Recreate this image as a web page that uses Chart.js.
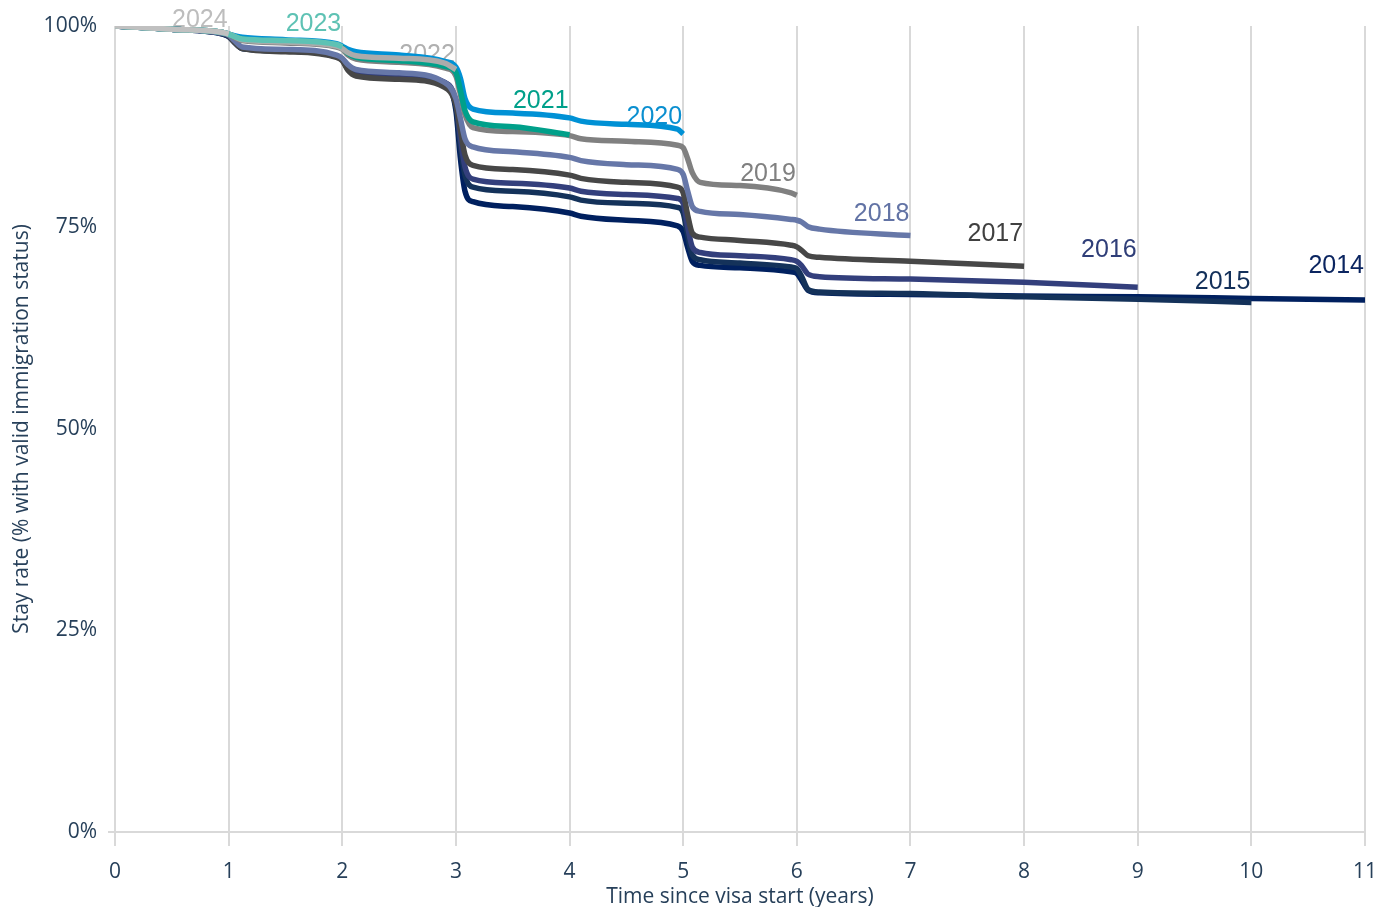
<!DOCTYPE html>
<html>
<head>
<meta charset="utf-8">
<script src="https://cdn.jsdelivr.net/npm/chart.js@4.4.1/dist/chart.umd.min.js"></script>
<style>
  html, body { margin: 0; padding: 0; background: #ffffff; }
  #wrap { width: 1380px; height: 907px; position: relative; }
</style>
</head>
<body>
<div id="wrap"><canvas id="c" width="1380" height="907"></canvas></div>
<script>
// ---- DATA ----
const years = [0, 0.5, 0.95, 1.0, 1.05, 1.12, 1.5, 1.95, 2.0, 2.05, 2.12, 2.5, 2.9, 3.0, 3.04, 3.08, 3.15, 3.5, 4.0, 4.1, 4.5, 4.95, 5.0, 5.04, 5.08, 5.15, 5.5, 5.95, 6.0, 6.04, 6.1, 6.2, 7, 8, 9, 10, 11];

const cohorts = ['2024', '2023', '2022', '2021', '2020', '2019', '2018', '2017', '2016', '2015', '2014'];

const stay2024 = [100, 99.6, 99.2, 99.0];
const stay2023 = [100, 99.6, 99.2, 99.0, 98.7, 98.4, 98.2, 97.7, 97.4];
const stay2022 = [100, 99.6, 99.2, 99.0, 98.7, 98.3, 98.0, 97.5, 97.2, 96.7, 96.3, 96.0, 95.4, 94.6];
const stay2021 = [100, 99.6, 99.2, 99.0, 98.7, 98.4, 98.1, 97.6, 97.3, 96.6, 96.1, 95.7, 95.0, 94.2, 92.0, 89.5, 88.1, 87.5, 86.5];
const stay2020 = [100, 99.6, 99.2, 99.0, 98.8, 98.6, 98.3, 97.8, 97.5, 97.1, 96.8, 96.4, 95.6, 94.9, 93.5, 91.0, 89.7, 89.2, 88.6, 88.2, 87.8, 87.2, 86.6];
const stay2019 = [100, 99.6, 99.2, 99.0, 98.6, 98.2, 97.9, 97.4, 97.1, 96.4, 95.9, 95.5, 94.8, 93.8, 91.5, 89.0, 87.4, 86.9, 86.4, 86.0, 85.7, 85.2, 84.9, 83.5, 81.8, 80.6, 80.2, 79.3, 79.0];
const stay2018 = [100, 99.6, 99.1, 98.9, 98.2, 97.4, 97.1, 96.4, 96.0, 95.2, 94.6, 94.2, 93.0, 91.0, 88.5, 86.0, 85.0, 84.4, 83.7, 83.3, 82.8, 82.2, 81.6, 79.5, 77.6, 77.0, 76.6, 76.0, 75.9, 75.7, 75.1, 74.8, 74.0];
const stay2017 = [100, 99.6, 99.1, 98.8, 98.0, 97.2, 96.8, 96.1, 95.7, 94.5, 93.8, 93.4, 92.4, 90.2, 87.0, 84.0, 82.7, 82.2, 81.5, 81.1, 80.6, 80.0, 79.3, 76.5, 74.3, 73.8, 73.4, 72.8, 72.6, 72.2, 71.5, 71.3, 70.8, 70.2];
const stay2016 = [100, 99.6, 99.1, 98.8, 98.1, 97.3, 97.0, 96.3, 95.9, 94.9, 94.4, 94.0, 93.0, 90.5, 86.0, 82.5, 81.0, 80.5, 79.9, 79.5, 79.1, 78.6, 78.0, 75.0, 72.6, 71.9, 71.5, 71.0, 70.8, 70.3, 69.2, 68.9, 68.6, 68.2, 67.6];
const stay2015 = [100, 99.6, 99.0, 98.7, 98.0, 97.2, 96.9, 96.2, 95.8, 94.7, 94.2, 93.8, 92.9, 90.0, 85.0, 81.5, 80.0, 79.5, 78.8, 78.4, 78.0, 77.5, 76.8, 74.0, 71.6, 71.0, 70.6, 70.1, 69.9, 69.0, 67.3, 67.0, 66.8, 66.4, 66.1, 65.7];
const stay2014 = [100, 99.6, 99.0, 98.7, 98.0, 97.2, 96.9, 96.2, 95.8, 94.7, 94.2, 93.9, 93.0, 89.5, 83.5, 79.5, 78.2, 77.6, 76.8, 76.4, 75.9, 75.2, 74.5, 72.5, 70.8, 70.3, 70.0, 69.5, 69.3, 68.5, 67.2, 66.9, 66.7, 66.5, 66.4, 66.2, 66.0];

// label anchor levels (stay-rate value where each cohort label sits)
const labelLevels = [100.7, 100.2, 96.4, 90.7, 88.7, 81.6, 76.6, 74.2, 72.2, 68.2, 70.2];

const xTicks = [0, 1, 2, 3, 4, 5, 6, 7, 8, 9, 10, 11];
const yTicks = [0, 25, 50, 75, 100];

// ---- STYLE ----
const lineColors = ['#C0C0C0', '#5EC2B4', '#ABABAB', '#00A08A', '#0091D5', '#808080', '#6677A8', '#474747', '#333F7C', '#14325A', '#00205F'];
const labelColors = ['#BDBDBD', '#5EC2B4', '#B0B0B0', '#00A08A', '#0A8FD0', '#808080', '#6273A5', '#404040', '#2F3E78', '#13305A', '#0B2560'];
const axisText = '#27405A';
const gridColor = '#D9D9D9';
const axisFont = { family: '"Open Sans", sans-serif', size: 21 };

const series = [stay2024, stay2023, stay2022, stay2021, stay2020, stay2019, stay2018, stay2017, stay2016, stay2015, stay2014];

const datasets = series.map((vals, i) => ({
  label: cohorts[i],
  data: vals.map((v, k) => ({ x: years[k], y: v })),
  borderColor: lineColors[i],
  backgroundColor: lineColors[i],
  borderWidth: 5.5,
  pointRadius: 0,
  pointHoverRadius: 0,
  fill: false,
  cubicInterpolationMode: 'monotone',
  borderCapStyle: 'butt',
  borderJoinStyle: 'round'
}));

const endLabels = {
  id: 'endLabels',
  beforeDatasetsDraw(chart) {
    const { ctx, scales } = chart;
    ctx.save();
    ctx.font = '25px "Liberation Sans", Arial, sans-serif';
    ctx.textAlign = 'right';
    ctx.textBaseline = 'middle';
    series.forEach((vals, i) => {
      const endX = years[vals.length - 1];
      const x = scales.x.getPixelForValue(endX) - 1;
      const y = scales.y.getPixelForValue(labelLevels[i]);
      ctx.fillStyle = labelColors[i];
      ctx.fillText(cohorts[i], x, y);
    });
    ctx.restore();
  }
};

new Chart(document.getElementById('c'), {
  type: 'line',
  data: { datasets },
  plugins: [endLabels],
  options: {
    responsive: false,
    animation: false,
    devicePixelRatio: 1,
    layout: { padding: { top: 26, right: 15, left: 0, bottom: 0 } },
    plugins: { legend: { display: false }, tooltip: { enabled: false } },
    scales: {
      x: {
        type: 'linear',
        min: 0, max: 11,
        afterFit(scale) { scale.height = 75; scale.paddingLeft = 0; scale.paddingRight = 0; },
        afterBuildTicks(scale) { scale.ticks = xTicks.map(v => ({ value: v })); },
        ticks: {
          color: axisText,
          font: axisFont,
          padding: 13,
          maxRotation: 0,
          autoSkip: false
        },
        grid: { color: gridColor, lineWidth: 2, tickLength: 14, drawOnChartArea: true },
        border: { display: false },
        title: {
          display: true,
          text: 'Time since visa start (years)',
          color: axisText,
          font: axisFont,
          padding: { top: 0, bottom: -3 }
        }
      },
      y: {
        type: 'linear',
        min: 0, max: 100,
        afterFit(scale) { scale.width = 115; scale.paddingTop = 0; scale.paddingBottom = 0; },
        afterBuildTicks(scale) { scale.ticks = yTicks.map(v => ({ value: v })); },
        ticks: {
          color: axisText,
          font: axisFont,
          padding: 11,
          callback: v => v + '%'
        },
        grid: {
          color: ctx => (ctx.tick && ctx.tick.value === 0) ? gridColor : 'rgba(0,0,0,0)',
          lineWidth: 2,
          tickLength: 7,
          drawOnChartArea: true
        },
        border: { display: false },
        title: {
          display: true,
          text: 'Stay rate (% with valid immigration status)',
          color: axisText,
          font: axisFont,
          padding: { top: 9, bottom: 0 }
        }
      }
    }
  }
});
</script>
</body>
</html>
